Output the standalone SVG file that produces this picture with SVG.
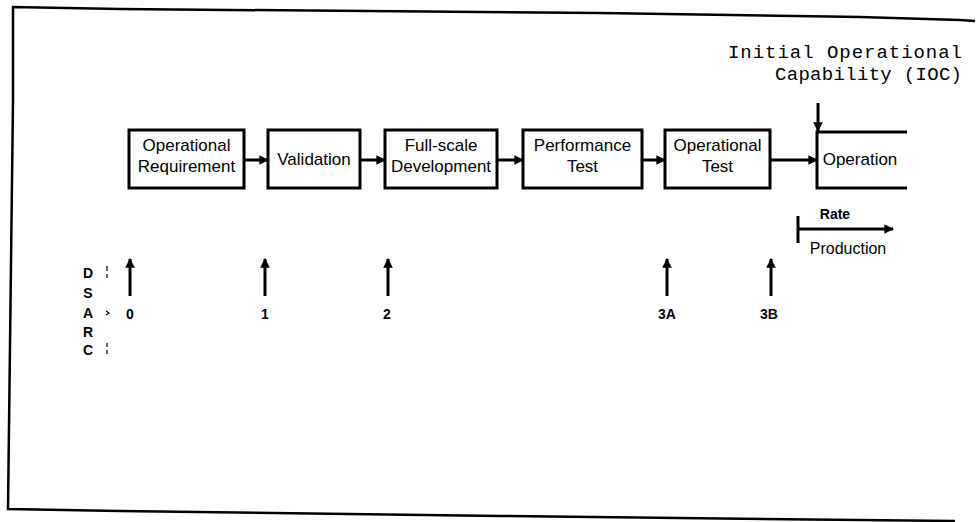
<svg xmlns="http://www.w3.org/2000/svg" width="980" height="522" viewBox="0 0 980 522">
<style>
.frame{fill:none;stroke:#000;stroke-width:2.5}
.box{fill:none;stroke:#000;stroke-width:3}
.bt{font-family:'Liberation Sans',Arial,sans-serif;font-size:17px;fill:#000;text-anchor:middle}
.conn{stroke:#000;stroke-width:3;fill:none}
.tw{font-family:'Liberation Mono','Courier New',monospace;font-size:19px;fill:#000}
.lbl{font-family:'Liberation Sans',Arial,sans-serif;font-size:14px;font-weight:bold;fill:#000;text-anchor:middle}
.mark{stroke:#000;stroke-width:1.2;fill:none}
</style>
<defs>
<marker id="ah" viewBox="0 0 10 10" refX="9" refY="5" markerWidth="3.6" markerHeight="3.2" orient="auto" markerUnits="strokeWidth"><path d="M0,0 L10,5 L0,10 z" fill="#000"/></marker>
</defs>
<polyline class="frame" points="975,21 960,20 860,17 600,13 120,9 13,7 13,100 8,509 120,511 500,516 955,521"/>
<g id="ioc">
<text class="tw" x="728" y="58" textLength="234" lengthAdjust="spacing">Initial Operational</text>
<text class="tw" x="775" y="80" textLength="187" lengthAdjust="spacing">Capability (IOC)</text>
</g>
<g id="n1"><rect class="box" x="129" y="130" width="115" height="58"/><text class="bt" x="186.5" y="151">Operational</text><text class="bt" x="186.5" y="172">Requirement</text></g>
<g id="n2"><rect class="box" x="268" y="130" width="92" height="58"/><text class="bt" x="314" y="165">Validation</text></g>
<g id="n3"><rect class="box" x="385" y="130" width="112" height="58"/><text class="bt" x="441" y="151">Full-scale</text><text class="bt" x="441" y="172">Development</text></g>
<g id="n4"><rect class="box" x="523" y="130" width="119" height="58"/><text class="bt" x="582.5" y="151">Performance</text><text class="bt" x="582.5" y="172">Test</text></g>
<g id="n5"><rect class="box" x="665" y="130" width="105" height="58"/><text class="bt" x="717.5" y="151">Operational</text><text class="bt" x="717.5" y="172">Test</text></g>
<g id="n6"><path class="box" d="M907,132 H817 V188 H907"/><text class="bt" x="860" y="165">Operation</text></g>
<g id="connectors">
<line class="conn" x1="244" y1="160" x2="268" y2="160" marker-end="url(#ah)"/>
<line class="conn" x1="360" y1="160" x2="385" y2="160" marker-end="url(#ah)"/>
<line class="conn" x1="497" y1="160" x2="523" y2="160" marker-end="url(#ah)"/>
<line class="conn" x1="642" y1="160" x2="665" y2="160" marker-end="url(#ah)"/>
<line class="conn" x1="770" y1="160" x2="817" y2="160" marker-end="url(#ah)"/>
<line class="conn" x1="818" y1="103" x2="818" y2="131" marker-end="url(#ah)"/>
<line class="conn" x1="130" y1="296" x2="130" y2="259" marker-end="url(#ah)"/>
<line class="conn" x1="265" y1="296" x2="265" y2="259" marker-end="url(#ah)"/>
<line class="conn" x1="388" y1="296" x2="388" y2="259" marker-end="url(#ah)"/>
<line class="conn" x1="667" y1="296" x2="667" y2="259" marker-end="url(#ah)"/>
<line class="conn" x1="771" y1="296" x2="771" y2="259" marker-end="url(#ah)"/>
<line class="conn" x1="798" y1="229" x2="893" y2="229" marker-end="url(#ah)"/>
<line class="conn" x1="798" y1="216" x2="798" y2="243"/>
</g>
<g id="rate">
<text class="lbl" x="835" y="219">Rate</text>
<text class="bt" x="848" y="254" style="font-size:16px">Production</text>
</g>
<g id="dsarc">
<text class="lbl" x="88" y="278">D</text>
<text class="lbl" x="88" y="298">S</text>
<text class="lbl" x="88" y="318">A</text>
<text class="lbl" x="88" y="337">R</text>
<text class="lbl" x="88" y="355">C</text>
<path class="mark" d="M107,266 V271 M107,274 V278 M106,311 L109,313 L106,315 M107,343 V347 M107,350 V354"/>
</g>
<g id="milestones">
<text class="lbl" x="130" y="319">0</text>
<text class="lbl" x="265" y="319">1</text>
<text class="lbl" x="387" y="319">2</text>
<text class="lbl" x="667" y="319">3A</text>
<text class="lbl" x="769" y="319">3B</text>
</g>
</svg>
